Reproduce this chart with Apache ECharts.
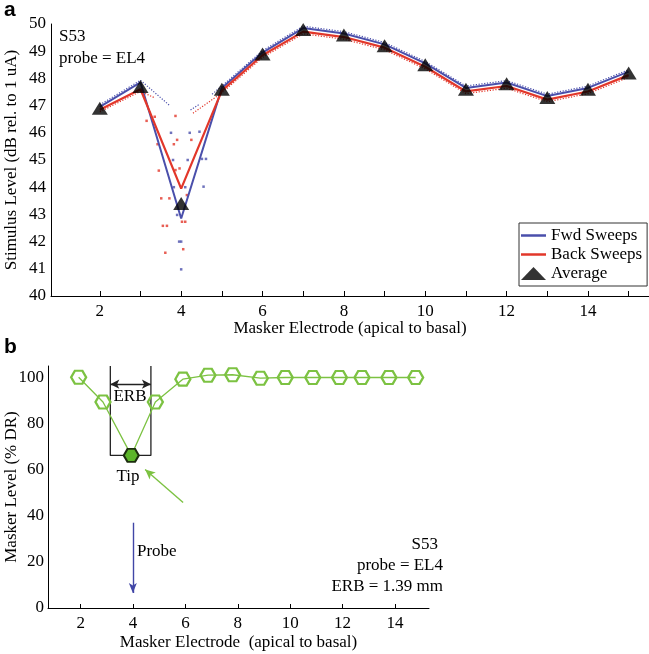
<!DOCTYPE html>
<html><head><meta charset="utf-8">
<script src="https://cdn.jsdelivr.net/npm/echarts@6/dist/echarts.min.js"></script>
<style>html,body{margin:0;padding:0;background:#fff}#c{width:649px;height:654px}</style>
</head><body><div id="c"></div>
<script>
// ---------- Panel a data ----------
const electrodes = [2,3,4,5,6,7,8,9,10,11,12,13,14,15];
const fwdSweeps  = [46.95,47.85,42.85,47.65,48.95,49.85,49.65,49.25,48.55,47.65,47.85,47.35,47.65,48.25];
const backSweeps = [46.85,47.60,43.95,47.55,48.85,49.72,49.52,49.13,48.43,47.52,47.72,47.22,47.52,48.12];
const average    = [46.9,47.7,43.4,47.6,48.9,49.8,49.6,49.2,48.5,47.6,47.8,47.3,47.6,48.2];

// individual sweep traces (dotted)
const fwdTrace1X = [2,3,3.72],            fwdTrace1Y = [47.03,47.93,47.0];
const fwdTrace2X = [4.23,4.43],           fwdTrace2Y = [46.84,47.03];
const fwdTrace3X = [4.76,5,6,7,8,9,10,11,12,13,14,15];
const fwdTrace3Y = [47.42,47.72,49.02,49.92,49.72,49.32,48.62,47.72,47.92,47.42,47.72,48.32];
const backTrace1X = [2,3,3.33],           backTrace1Y = [46.77,47.52,47.3];
const backTrace2X = [4.29,5,6,7,8,9,10,11,12,13,14,15];
const backTrace2Y = [46.72,47.47,48.77,49.64,49.44,49.05,48.35,47.44,47.64,47.14,47.44,48.04];

// scattered individual sweep points near the tip
const fwdDotsX = [3.75,3.80,3.82,3.90,3.95,4.00,4.00,4.10,4.16,4.21,4.45,4.51,4.55,4.61];
const fwdDotsY = [46.0,45.0,44.0,42.98,42.0,42.0,40.98,44.0,45.0,46.0,46.04,45.04,44.02,45.04];
const backDotsX = [3.15,3.35,3.42,3.45,3.51,3.55,3.61,3.65,3.71,3.82,3.86,3.86,3.90,3.96,4.02,4.05,4.10,4.14,4.25];
const backDotsY = [46.44,46.59,45.58,44.61,43.59,42.58,41.59,42.58,43.59,45.58,46.62,44.63,45.74,44.69,42.73,41.72,42.73,43.71,45.74];

const topXTicks  = [2,3,4,5,6,7,8,9,10,11,12,13,14,15];
const topXLabels = [2,4,6,8,10,12,14];

// ---------- Panel b data ----------
const maskerX     = [1.92,2.85,3.93,4.85,5.90,6.86,7.80,8.86,9.81,10.86,11.88,12.74,13.77,14.79];
const maskerLevel = [100.1,89.4,66.2,89.4,99.3,101.0,101.2,99.7,100.0,100.0,100.0,100.0,100.0,100.0];
const tipIndex = 2;
const erbLeft = 3.13, erbRight = 4.68, erbArrowLevel = 97.1, erbTop = 105;
const tipArrowFrom = [5.91,45.8], tipArrowTo = [4.46,60.1];
const probeArrowFrom = [3.99,37], probeArrowTo = [3.99,6.5];
const botXLabels = [2,4,6,8,10,12,14];
const botYLabels = [0,20,40,60,80,100];

const zip = (xs, ys) => xs.map((x,i) => [x, ys[i]]);

const BLUE = '#4a4fab', RED = '#e2372a', GREEN = '#7cc242';
const SERIF = '"Liberation Serif", "Times New Roman", serif';
const lbl = {fontFamily: SERIF, fontSize: 17, color: '#000'};
const axLine = {show: true, onZero: false, lineStyle: {color: '#000', width: 1}};
const HEX = 'path://M0,7 L4,0 L12,0 L16,7 L12,14 L4,14 Z';
const LINE_ICON = 'path://M0,0 L40,0 L40,4 L0,4 Z';

const chart = echarts.init(document.getElementById('c'), null, {renderer: 'canvas'});

function dotted(name, xs, ys, color) {
  return {type: 'line', name: name, xAxisIndex: 0, yAxisIndex: 0, data: zip(xs, ys),
    symbol: 'none', silent: true, z: 2,
    lineStyle: {color: color, width: 1.2, type: [1.2, 1.6]}};
}

const option = {
  animation: false,
  backgroundColor: '#fff',
  textStyle: {fontFamily: SERIF},
  grid: [
    {left: 51, top: 24, width: 598, height: 272, outerBoundsMode: 'none', containLabel: false},
    {left: 48, top: 366, width: 381, height: 242, outerBoundsMode: 'none', containLabel: false}
  ],
  xAxis: [
    {gridIndex: 0, type: 'value', min: 0.8, max: 15.5,
     axisLine: axLine,
     axisTick: {show: true, inside: true, length: 5, customValues: topXTicks, lineStyle: {color: '#000'}},
     axisLabel: Object.assign({margin: 7, customValues: topXLabels}, lbl),
     splitLine: {show: false},
     name: 'Masker Electrode (apical to basal)', nameLocation: 'middle', nameGap: 24,
     nameMoveOverlap: false, nameTextStyle: lbl},
    {gridIndex: 1, type: 'value', min: 0.75, max: 15.3,
     axisLine: axLine,
     axisTick: {show: true, inside: true, length: 4, customValues: botXLabels, lineStyle: {color: '#000'}},
     axisLabel: Object.assign({margin: 7, customValues: botXLabels}, lbl),
     splitLine: {show: false},
     name: 'Masker Electrode  (apical to basal)', nameLocation: 'middle', nameGap: 26,
     nameMoveOverlap: false, nameTextStyle: lbl}
  ],
  yAxis: [
    {gridIndex: 0, type: 'value', min: 40, max: 50, interval: 1,
     axisLine: axLine, axisTick: {show: false},
     axisLabel: Object.assign({margin: 5}, lbl),
     splitLine: {show: false},
     name: 'Stimulus Level (dB rel. to 1 uA)', nameLocation: 'middle', nameGap: 31,
     nameMoveOverlap: false, nameTextStyle: lbl},
    {gridIndex: 1, type: 'value', min: 0, max: 105,
     axisLine: axLine, axisTick: {show: false},
     axisLabel: Object.assign({margin: 4, customValues: botYLabels}, lbl),
     splitLine: {show: false},
     name: 'Masker Level (% DR)', nameLocation: 'middle', nameGap: 28,
     nameMoveOverlap: false, nameTextStyle: lbl}
  ],
  legend: {
    data: [{name: 'Fwd Sweeps', icon: LINE_ICON}, {name: 'Back Sweeps', icon: LINE_ICON}, {name: 'Average'}],
    orient: 'vertical', left: 519, top: 223,
    borderColor: '#333', borderWidth: 1, padding: [4, 5, 4, 2],
    itemWidth: 25, itemHeight: 13, itemGap: 2,
    textStyle: {fontFamily: SERIF, fontSize: 17, color: '#000'},
    backgroundColor: '#fff', z: 20
  },
  series: [
    dotted('fwdTrace1', fwdTrace1X, fwdTrace1Y, BLUE),
    dotted('fwdTrace2', fwdTrace2X, fwdTrace2Y, BLUE),
    dotted('fwdTrace3', fwdTrace3X, fwdTrace3Y, BLUE),
    dotted('backTrace1', backTrace1X, backTrace1Y, RED),
    dotted('backTrace2', backTrace2X, backTrace2Y, RED),
    {type: 'scatter', name: 'fwdDots', xAxisIndex: 0, yAxisIndex: 0, data: zip(fwdDotsX, fwdDotsY),
     symbol: 'rect', symbolSize: 2.5, itemStyle: {color: BLUE}, silent: true, z: 2},
    {type: 'scatter', name: 'backDots', xAxisIndex: 0, yAxisIndex: 0, data: zip(backDotsX, backDotsY),
     symbol: 'rect', symbolSize: 2.5, itemStyle: {color: RED}, silent: true, z: 2},
    {type: 'line', name: 'Fwd Sweeps', xAxisIndex: 0, yAxisIndex: 0, data: zip(electrodes, fwdSweeps),
     symbol: 'none', z: 3, lineStyle: {color: BLUE, width: 2}, itemStyle: {color: BLUE}},
    {type: 'line', name: 'Back Sweeps', xAxisIndex: 0, yAxisIndex: 0, data: zip(electrodes, backSweeps),
     symbol: 'none', z: 4, lineStyle: {color: RED, width: 2.2}, itemStyle: {color: RED}},
    {type: 'scatter', name: 'Average', xAxisIndex: 0, yAxisIndex: 0, data: zip(electrodes, average),
     symbol: 'triangle', symbolSize: [16, 13], z: 5, itemStyle: {color: '#000'}},

    // panel b: ERB box
    {type: 'line', name: 'erbBox', xAxisIndex: 1, yAxisIndex: 1,
     data: [[erbLeft, erbTop], [erbLeft, maskerLevel[tipIndex]], [erbRight, maskerLevel[tipIndex]], [erbRight, erbTop]],
     symbol: 'none', silent: true, z: 2, lineStyle: {color: '#222', width: 1.3}},
    // panel b: masker curve
    {type: 'line', name: 'maskerLevel', xAxisIndex: 1, yAxisIndex: 1,
     data: maskerX.map((x, i) => i === tipIndex
        ? {value: [x, maskerLevel[i]], itemStyle: {color: '#5cb52a', borderColor: '#1c2e0e', borderWidth: 2}}
        : [x, maskerLevel[i]]),
     symbol: HEX, symbolSize: [15, 13], z: 4,
     lineStyle: {color: GREEN, width: 1.3},
     itemStyle: {color: 'rgba(255,255,255,0)', borderColor: GREEN, borderWidth: 2.2},
     markLine: {
       silent: true, label: {show: false}, animation: false,
       data: [
         [{coord: [erbLeft, erbArrowLevel], symbol: 'arrow', symbolSize: [7, 9], lineStyle: {color: '#222', width: 1.3, type: 'solid'}},
          {coord: [erbRight, erbArrowLevel], symbol: 'arrow', symbolSize: [7, 9]}],
         [{coord: tipArrowFrom, symbol: 'none', lineStyle: {color: GREEN, width: 1.4, type: 'solid'}},
          {coord: tipArrowTo, symbol: 'arrow', symbolSize: [7, 10]}],
         [{coord: probeArrowFrom, symbol: 'none', lineStyle: {color: '#4146a6', width: 1.4, type: 'solid'}},
          {coord: probeArrowTo, symbol: 'arrow', symbolSize: [6, 10]}]
       ]
     }}
  ],
  graphic: [
    {type: 'text', x: 4, y: 10, style: {text: 'a', font: 'bold 21px "Liberation Sans", Arial, sans-serif', fill: '#000', verticalAlign: 'middle'}},
    {type: 'text', x: 4, y: 347, style: {text: 'b', font: 'bold 21px "Liberation Sans", Arial, sans-serif', fill: '#000', verticalAlign: 'middle'}},
    {type: 'text', x: 59, y: 37, style: {text: 'S53', font: '17px ' + SERIF, fill: '#000', verticalAlign: 'middle'}},
    {type: 'text', x: 59, y: 59, style: {text: 'probe = EL4', font: '17px ' + SERIF, fill: '#000', verticalAlign: 'middle'}},
    {type: 'text', x: 130, y: 397, style: {text: 'ERB', font: '17px ' + SERIF, fill: '#000', align: 'center', verticalAlign: 'middle'}},
    {type: 'text', x: 128, y: 477, style: {text: 'Tip', font: '17px ' + SERIF, fill: '#000', align: 'center', verticalAlign: 'middle'}},
    {type: 'text', x: 137, y: 552, style: {text: 'Probe', font: '17px ' + SERIF, fill: '#000', verticalAlign: 'middle'}},
    {type: 'text', x: 438, y: 545, style: {text: 'S53', font: '17px ' + SERIF, fill: '#000', align: 'right', verticalAlign: 'middle'}},
    {type: 'text', x: 443, y: 566, style: {text: 'probe = EL4', font: '17px ' + SERIF, fill: '#000', align: 'right', verticalAlign: 'middle'}},
    {type: 'text', x: 443, y: 587, style: {text: 'ERB = 1.39 mm', font: '17px ' + SERIF, fill: '#000', align: 'right', verticalAlign: 'middle'}}
  ]
};
chart.setOption(option);
</script>
</body></html>
